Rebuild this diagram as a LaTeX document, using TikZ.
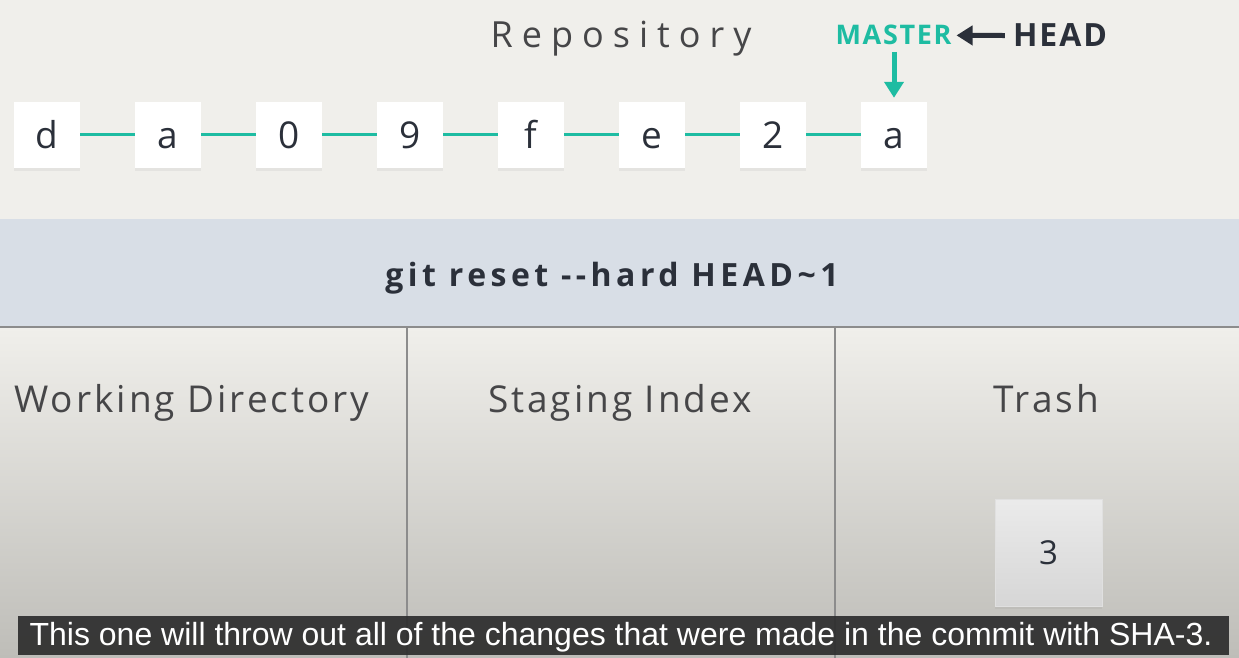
\documentclass[tikz,border=0pt]{standalone}
\usepackage{fontspec}
\setmainfont{Open Sans}
\newfontfamily\subfont{Liberation Sans}
\usetikzlibrary{shadows,arrows.meta}
\definecolor{bgtop}{RGB}{240,239,235}
\definecolor{bgbot}{RGB}{190,189,184}
\definecolor{band}{RGB}{216,222,230}
\definecolor{teal}{RGB}{30,188,162}
\definecolor{ink}{RGB}{43,48,58}
\definecolor{lightink}{RGB}{70,70,72}
\definecolor{divider}{RGB}{140,140,140}
\tikzset{
  commit/.style={draw=none, fill=white, minimum size=66pt, inner sep=0pt,
    text height=28pt, text depth=0pt,
    font=\fontsize{37}{40}\selectfont, text=ink,
    drop shadow={opacity=0.10, shadow xshift=0pt, shadow yshift=-3pt}},
  link/.style={teal, line width=3pt},
  title/.style={text=lightink, inner sep=0pt, anchor=base},
  tag/.style={inner sep=0pt, anchor=base},
  trashbox/.style={draw=black!12, top color=black!8, bottom color=black!16, minimum size=107pt,
    inner sep=0pt, font=\fontsize{33}{36}\selectfont, text=ink,
    drop shadow={opacity=0.10, shadow xshift=0pt, shadow yshift=-3pt}},
  divline/.style={divider, line width=1.5pt}
}
\begin{document}
\begin{tikzpicture}[x=1pt,y=-1pt]
\useasboundingbox (0,0) rectangle (1239,658);
% backgrounds
\fill[bgtop] (0,0) rectangle (1239,327);
\shade[top color=bgtop, bottom color=bgbot] (0,327) rectangle (1239,658);
\fill[band] (0,219) rectangle (1239,327);
\draw[divider, line width=1.5pt] (0,327) -- (1239,327);

% title
\node[title, font=\fontsize{36}{40}\selectfont\addfontfeatures{LetterSpace=25}] (repo) at (621,48) {Repository};

% commits
\foreach \i/\x/\t in {1/47/d,2/168/a,3/289/0,4/410/9,5/531/f,6/652/e,7/773/2,8/894/a}
  \node[commit] (c\i) at (\x,135) {\t};
\foreach \i [evaluate=\i as \j using int(\i+1)] in {1,...,7}
  \draw[link] (c\i.east) -- (c\j.west);

% labels
\node[tag, text=teal, font=\fontsize{27}{30}\selectfont\bfseries\addfontfeatures{LetterSpace=6}] (master) at (893.5,45) {MASTER};
\node[tag, text=ink, font=\fontsize{32}{34}\selectfont\bfseries\addfontfeatures{LetterSpace=6}] (head) at (1060,47) {HEAD};
\draw[ink, line width=5pt, -{Triangle[width=19pt,length=16pt]}, shorten >=5pt, shorten <=8pt] (head.west) -- (master.east);
\coordinate (ms) at (894,52);
\draw[teal, line width=5pt, -{Triangle[width=19pt,length=16pt]}, shorten >=4pt] (ms) -- (c8.north);

% command band
\node[tag, text=ink, font=\fontsize{32}{36}\selectfont\bfseries\addfontfeatures{LetterSpace=14}] (cmd) at (612,286) {git reset {-}{-}hard HEAD\char`\~1};

% columns
\draw[divline] (407,327) coordinate (d1top) -- (407,658) coordinate (d1bot);
\draw[divline] (835,327) coordinate (d2top) -- (835,658) coordinate (d2bot);
\node[title, font=\fontsize{37}{42}\selectfont\addfontfeatures{LetterSpace=8}] (wd) at (192,412) {Working Directory};
\node[title, font=\fontsize{37}{42}\selectfont\addfontfeatures{LetterSpace=8}] (si) at (620,412) {Staging Index};
\node[title, font=\fontsize{37}{42}\selectfont\addfontfeatures{LetterSpace=8}] (tr) at (1046,412) {Trash};

\node[trashbox] (t3) at (1048.5,552.5) {3};

% subtitle
\fill[black!82, opacity=0.93] (18,616) rectangle (1229,655);
\node[tag, text=white, font=\subfont\fontsize{32}{34}\selectfont] (sub) at (621,645) {This one will throw out all of the changes that were made in the commit with SHA-3.};
\end{tikzpicture}
\end{document}
